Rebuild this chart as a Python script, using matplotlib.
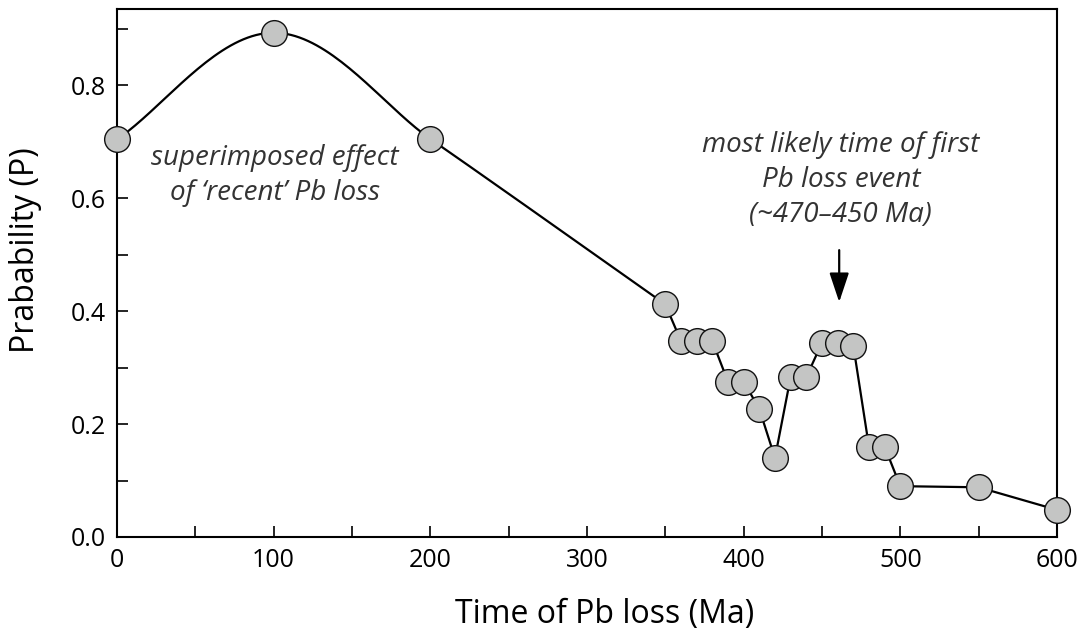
import matplotlib
matplotlib.use("Agg")
import matplotlib.pyplot as plt
import matplotlib.ticker as ticker
import numpy as np

plt.rcParams["font.family"] = ["Open Sans", "DejaVu Sans"]

# 데이터
time_ma = [0, 100, 200, 350, 360, 370, 380, 390, 400, 410, 420, 430, 440,
           450, 460, 470, 480, 490, 500, 550, 600]
prob = [0.704, 0.893, 0.705, 0.412, 0.347, 0.347, 0.347, 0.275, 0.275, 0.227,
        0.140, 0.283, 0.283, 0.344, 0.344, 0.339, 0.160, 0.160, 0.090, 0.088, 0.048]

x_ticks = [0, 100, 200, 300, 400, 500, 600]
y_ticks = [0.0, 0.2, 0.4, 0.6, 0.8]


def smooth_path(ax, x, y, f=0.3, n=40, min_len=120):
    """화면 좌표 베지어 곡선: 긴 구간만 부드럽게, 짧은 구간은 직선"""
    pts = ax.transData.transform(np.column_stack([x, y]))
    npts = len(pts)
    seglen = np.linalg.norm(np.diff(pts, axis=0), axis=1)

    def tangent(k, chord):
        # 양쪽 구간이 모두 길 때만 곡선 접선 사용
        if 0 < k < npts - 1 and seglen[k - 1] > min_len and seglen[k] > min_len:
            t = pts[k + 1] - pts[k - 1]
        else:
            t = chord
        return t / np.linalg.norm(t)

    out = []
    for k in range(npts - 1):
        p0, p1 = pts[k], pts[k + 1]
        chord = p1 - p0
        d = seglen[k]
        c0 = p0 + tangent(k, chord) * d * f
        c1 = p1 - tangent(k + 1, chord) * d * f
        t = np.linspace(0, 1, n)[:, None]
        seg = ((1 - t) ** 3) * p0 + 3 * ((1 - t) ** 2) * t * c0 \
            + 3 * (1 - t) * t ** 2 * c1 + t ** 3 * p1
        out.append(seg if k == 0 else seg[1:])
    return ax.transData.inverted().transform(np.vstack(out))


fig = plt.figure(figsize=(10.91, 6.36), dpi=100)
ax = fig.add_axes([0.1072, 0.1557, 0.8616, 0.8301])
ax.set_xlim(0, 600)
ax.set_ylim(0, 0.935)

curve = smooth_path(ax, time_ma, prob)
ax.plot(curve[:, 0], curve[:, 1], color="black", linewidth=1.6, zorder=2,
        clip_on=False)
ax.plot(time_ma, prob, linestyle="none", marker="o", markersize=18.5,
        markerfacecolor="#c4c5c4", markeredgecolor="#111111",
        markeredgewidth=1.0, zorder=3, clip_on=False)

ax.set_xticks(x_ticks)
ax.set_xticklabels([str(v) for v in x_ticks])
ax.xaxis.set_minor_locator(ticker.MultipleLocator(50))
ax.set_yticks(y_ticks)
ax.set_yticklabels([f"{v:.1f}" for v in y_ticks])
ax.yaxis.set_minor_locator(ticker.MultipleLocator(0.1))

ax.tick_params(which="both", direction="in", length=8, width=1.2,
               top=False, right=False, labelsize=18, colors="black")
ax.tick_params(axis="x", pad=8)
ax.tick_params(axis="y", pad=8)
for s in ax.spines.values():
    s.set_linewidth(1.5)

ax.set_xlabel("Time of Pb loss (Ma)", fontsize=23)
ax.set_ylabel("Prabability (P)", fontsize=23)
ax.xaxis.set_label_coords(0.519, -0.115)
ax.yaxis.set_label_coords(-0.080, 0.544)

ax.text(101, 0.640, "superimposed effect\nof \u2018recent\u2019 Pb loss",
        ha="center", va="center", fontsize=20, style="italic", color="#333333",
        linespacing=1.34)
ax.text(462, 0.632, "most likely time of first\nPb loss event\n(~470\u2013450 Ma)",
        ha="center", va="center", fontsize=20, style="italic", color="#333333",
        linespacing=1.34)
ax.annotate("", xy=(461, 0.416), xytext=(461, 0.508),
            arrowprops=dict(arrowstyle="-|>,head_length=0.6,head_width=0.2",
                            color="black", lw=1.6, mutation_scale=30,
                            shrinkA=0, shrinkB=0))

fig.savefig("out.png", dpi=100, facecolor="white")
